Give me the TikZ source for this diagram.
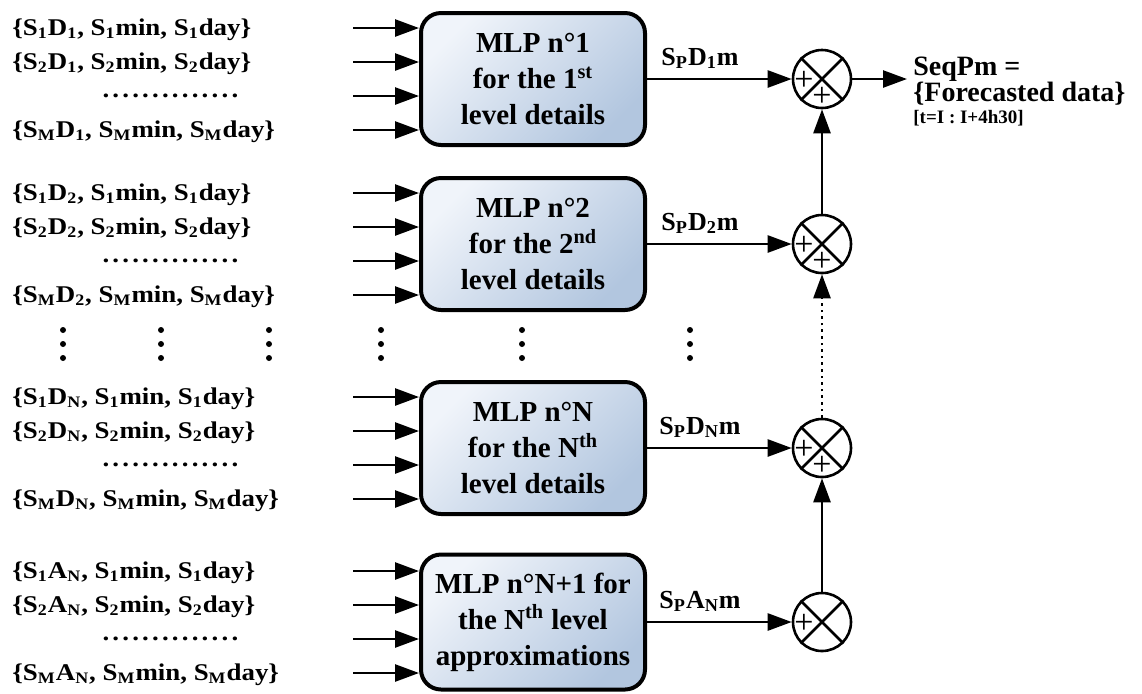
\documentclass[tikz,border=0pt]{standalone}
\usepackage{fontspec}
\setmainfont{Liberation Serif}
\newfontfamily\widefont{Liberation Serif}[FakeStretch=1.12]
\usetikzlibrary{arrows.meta}

\definecolor{mlplight}{RGB}{240,244,250}
\definecolor{mlpdark}{RGB}{178,198,223}

\newcommand{\sub}[1]{\textsubscript{#1}}
\newcommand{\dotrow}{\foreach \k in {1,...,14}{.\kern1.6pt}}

\begin{document}
\begin{tikzpicture}[x=0.5pt,y=-0.5pt,>={Triangle[length=12pt,width=8.5pt]}]
	\tikzstyle{mlp}=[draw,line width=2pt,rounded corners=10pt,minimum width=112pt,minimum height=66pt,align=center,
		font=\fontsize{14.5}{18}\selectfont\bfseries,top color=mlplight,bottom color=mlpdark,shading angle=45]
	\tikzstyle{lbl}=[anchor=base west,inner sep=0pt,font=\widefont\fontsize{12}{14}\selectfont\bfseries]
	\tikzstyle{outlbl}=[anchor=base,inner sep=0pt,font=\fontsize{13}{15}\selectfont\bfseries]
	\tikzstyle{sum}=[draw,circle,line width=1.3pt,minimum size=29pt,inner sep=0pt]
	\tikzstyle{plus}=[inner sep=0pt,font=\fontsize{17}{17}\selectfont]
	\tikzstyle{conn}=[line width=1.3pt]

	\useasboundingbox (0,0) rectangle (1142,693);

	\node[mlp] (m1) at (533,79) {MLP n°1\\for the 1\textsuperscript{st}\\level details};
	\node[mlp] (m2) at (533,244) {MLP n°2\\for the 2\textsuperscript{nd}\\level details};
	\node[mlp] (m3) at (533,448) {MLP n°N\\for the N\textsuperscript{th}\\level details};
	\node[mlp,minimum height=67.5pt] (m4) at (533,622) {MLP n°N+1 for\\the N\textsuperscript{th} level\\approximations};

	\foreach \i/\y/\d in {1/79/D\sub{1},2/244/D\sub{2},3/448/D\sub{N},4/622/A\sub{N}}{
		\node[lbl] (s\i a) at (12,\y-44) {\{S\sub{1}\d, S\sub{1}min, S\sub{1}day\}};
		\node[lbl] (s\i b) at (12,\y-10) {\{S\sub{2}\d, S\sub{2}min, S\sub{2}day\}};
		\node[lbl,anchor=base] (s\i c) at (172,\y+18) {\dotrow};
		\node[lbl] (s\i d) at (12,\y+58) {\{S\sub{M}\d, S\sub{M}min, S\sub{M}day\}};
		\foreach \k in {-51,-17,17,51}{
			\coordinate (a\i\k) at (353,\y+\k);
			\draw[conn,->] (a\i\k) -- (a\i\k -| m\i.west);
		}
		\node[sum] (c\i) at (822,\y) {};
		\draw[line width=1.3pt] (c\i.north west) -- (c\i.south east) (c\i.north east) -- (c\i.south west);
		\node[plus] (p\i) at ([xshift=-9pt,yshift=-1pt]c\i.center) {+};
		\node[outlbl] (o\i) at (700,\y-14) {S\sub{P}\d m};
		\draw[conn,->] (m\i) -- (c\i);
	}
	\node[plus] (q1) at ([yshift=-9pt]c1.center) {+};
	\node[plus] (q2) at ([yshift=-9pt]c2.center) {+};
	\node[plus] (q3) at ([yshift=-9pt]c3.center) {+};

	\draw[conn,->] (c4) -- (c3);
	\draw[conn,->,dotted] (c3) -- (c2);
	\draw[conn,->] (c2) -- (c1);

	\coordinate (out) at (907,79);
	\draw[conn,->] (c1) -- (out);
	\node[lbl,font=\fontsize{14}{16}\selectfont\bfseries] (seq) at (913,75) {SeqPm =};
	\node[lbl,font=\fontsize{14}{16}\selectfont\bfseries] (fc) at (913,101) {\{Forecasted data\}};
	\node[lbl,font=\fontsize{9.5}{11}\selectfont\bfseries] (tr) at (913,123) {[t=I : I+4h30]};

	\foreach \x in {63,161,269,381,522,690}
		\foreach \y in {330,344,358}
			\fill (\x,\y) circle (1.5pt);
\end{tikzpicture}
\end{document}
